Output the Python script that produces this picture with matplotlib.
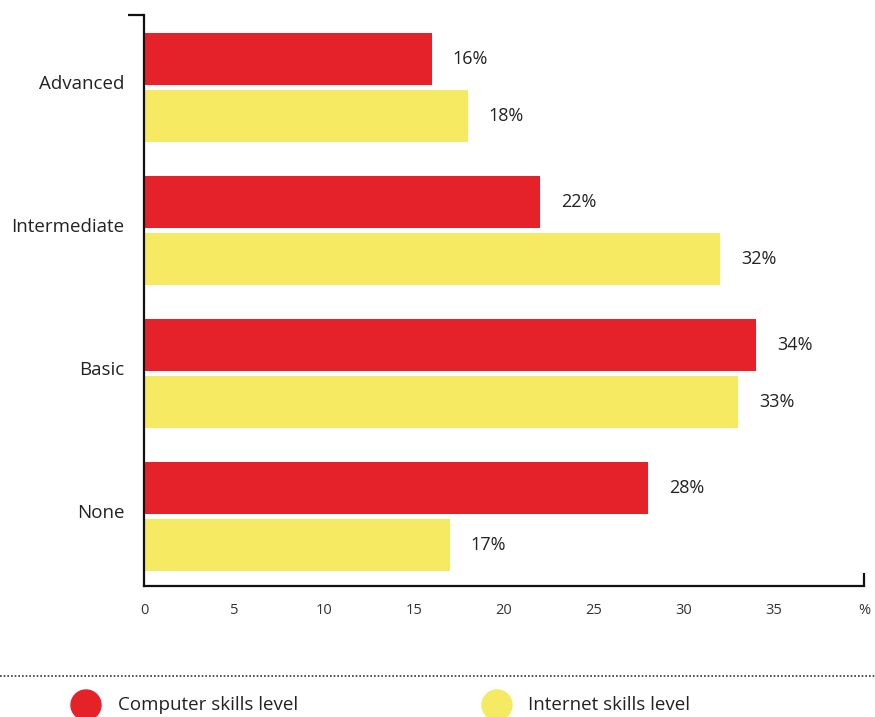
import matplotlib
matplotlib.use('Agg')
import matplotlib.pyplot as plt
from matplotlib.patches import Ellipse
from matplotlib.lines import Line2D
import matplotlib.transforms as mtransforms
import numpy as np

plt.rcParams['font.family'] = ['Open Sans', 'DejaVu Sans']

RED = '#E52229'
YELLOW = '#F6EA63'
TEXT = '#222222'

categories = ['Advanced', 'Intermediate', 'Basic', 'None']
computer = [16, 22, 34, 28]
internet = [18, 32, 33, 17]
xticks = [0, 5, 10, 15, 20, 25, 30, 35, 40]
xtick_labels = ['0', '5', '10', '15', '20', '25', '30', '35', '%']

fig = plt.figure(figsize=(8.75, 7.17), dpi=100)
ax = fig.add_axes([144 / 875, 131 / 717, 720 / 875, 571 / 717])

y = np.arange(len(categories))
h = 0.364
off = 0.2
b1 = ax.barh(y - off, computer, height=h, color=RED)
b2 = ax.barh(y + off, internet, height=h, color=YELLOW)

for bars, vals in ((b1, computer), (b2, internet)):
    for bar, v in zip(bars, vals):
        ax.annotate(f'{v}%', xy=(v, bar.get_y() + bar.get_height() / 2),
                    xytext=(15, 0), textcoords='offset points',
                    va='center', ha='left', fontsize=13, color=TEXT)

ax.set_xlim(0, 40)
ax.set_ylim(3.486, -0.507)

ax.set_yticks(y)
ax.set_yticklabels(categories, fontsize=13.5, color=TEXT)
ax.tick_params(axis='y', length=0, pad=14)
# lift the category names a little above the gap between the bars
shift = mtransforms.ScaledTranslation(0, 6 / 100, fig.dpi_scale_trans)
for lbl in ax.get_yticklabels():
    lbl.set_transform(lbl.get_transform() + shift)

ax.set_xticks(xticks)
ax.set_xticklabels(xtick_labels, fontsize=10.5, color='#333333')
ax.tick_params(axis='x', length=0, pad=12)

for side in ('top', 'right'):
    ax.spines[side].set_visible(False)
for side in ('left', 'bottom'):
    ax.spines[side].set_linewidth(1.6)
    ax.spines[side].set_color('#111111')

# end caps: short stub at top-left and at bottom-right
ax.plot([-16 / 18, 0], [-0.507, -0.507], color='#111111', lw=1.6,
        clip_on=False, solid_capstyle='butt')
ax.plot([40, 40], [3.486, 3.486 - 13 / 143], color='#111111', lw=1.6,
        clip_on=False, solid_capstyle='butt')

# dotted separator
fig.add_artist(Line2D([0, 1], [1 - 676 / 717, 1 - 676 / 717],
                      color='#333333', lw=1.2, linestyle=(0, (1, 1.2))))

# legend
leg_y = 1 - 705 / 717
for cx, tx, col, label in ((86, 118, RED, 'Computer skills level'),
                           (497, 528, YELLOW, 'Internet skills level')):
    fig.add_artist(Ellipse((cx / 875, leg_y), 30 / 875, 30 / 717,
                           color=col, transform=fig.transFigure))
    fig.text(tx / 875, leg_y, label, fontsize=13.5, color=TEXT,
             va='center', ha='left')

plt.savefig('out.png', dpi=100, facecolor='white')
